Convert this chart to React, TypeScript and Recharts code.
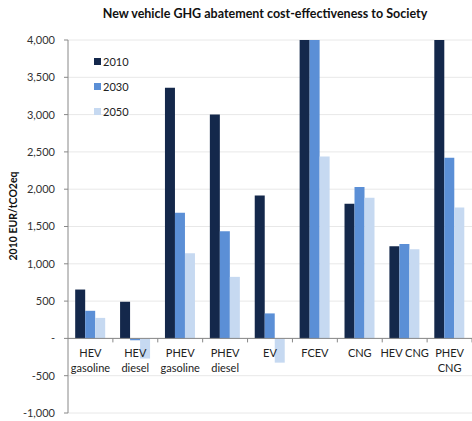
import React from 'react';
import { Bar, BarChart, CartesianGrid, ReferenceLine, XAxis, YAxis } from 'recharts';

const categories = [
  'HEV\ngasoline',
  'HEV\ndiesel',
  'PHEV\ngasoline',
  'PHEV\ndiesel',
  'EV',
  'FCEV',
  'CNG',
  'HEV CNG',
  'PHEV\nCNG',
];

// EUR per tCO2eq; FCEV and PHEV CNG 2010 run off the top of the scale
const y2010 = [655, 490, 3360, 3000, 1915, 4600, 1805, 1235, 4500];
const y2030 = [370, -25, 1685, 1435, 335, 4400, 2030, 1265, 2420];
const y2050 = [275, -270, 1140, 825, -325, 2440, 1885, 1195, 1755];

const yTicks = [-1000, -500, 0, 500, 1000, 1500, 2000, 2500, 3000, 3500, 4000];
const Y_MIN = -1000;
const Y_MAX = 4000;

const series = [
  { key: 'y2010', name: '2010', color: '#14284b' },
  { key: 'y2030', name: '2030', color: '#5b8fd6' },
  { key: 'y2050', name: '2050', color: '#c6d9f1' },
];

const data = categories.map((c, i) => ({
  name: c,
  y2010: y2010[i],
  y2030: y2030[i],
  y2050: y2050[i],
}));

const W = 472;
const H = 421;
const M_TOP = 40;
const X_AXIS_H = 8;
const Y_AXIS_W = 68;
const PLOT_BOTTOM = H - X_AXIS_H;
const PLOT_W = W - Y_AXIS_W;
const ZERO_Y = M_TOP + ((Y_MAX - 0) / (Y_MAX - Y_MIN)) * (PLOT_BOTTOM - M_TOP);
const BAND = PLOT_W / categories.length;

const FONT = 'Lato, "Open Sans", sans-serif';

const fmt = (v: number) => {
  if (v === 0) return '-';
  return v.toLocaleString('en-US');
};

// category labels sit under the zero line, with tick marks between categories
const CategoryTick = (props: any) => {
  const { x, payload } = props;
  const lines = String(payload.value).split('\n');
  return (
    <g>
      <line x1={x + BAND / 2} x2={x + BAND / 2} y1={ZERO_Y} y2={ZERO_Y + 4} stroke="#888" />
      {lines.map((l, i) => (
        <text
          key={i}
          x={x}
          y={ZERO_Y + 19 + i * 15}
          textAnchor="middle"
          fontSize={11}
          fontFamily={FONT}
          fill="#222"
        >
          {l}
        </text>
      ))}
    </g>
  );
};

const LegendBox = () => (
  <div
    style={{
      position: 'absolute',
      left: 94,
      top: 49,
      fontFamily: FONT,
      fontSize: 11,
      color: '#222',
      zIndex: 2,
    }}
  >
    {series.map((s) => (
      <div key={s.key} style={{ display: 'flex', alignItems: 'center', height: 25 }}>
        <span style={{ width: 7, height: 7, background: s.color, marginRight: 2 }} />
        <span>{s.name}</span>
      </div>
    ))}
  </div>
);

export default function App() {
  return (
    <div style={{ position: 'absolute', left: 0, top: 0, width: W, height: H, background: '#fff' }}>
      <div
        style={{
          position: 'absolute',
          left: 0,
          width: 530,
          top: 6,
          textAlign: 'center',
          fontFamily: FONT,
          fontWeight: 700,
          fontSize: 12.5,
          color: '#111',
        }}
      >
        New vehicle GHG abatement cost-effectiveness to Society
      </div>
      <svg style={{ position: 'absolute', left: 0, top: 0 }} width={30} height={H}>
        <text
          transform={`translate(17, 216) rotate(-90)`}
          textAnchor="middle"
          fontFamily={FONT}
          fontWeight={700}
          fontSize={10.5}
          fill="#111"
        >
          2010 EUR/tCO2eq
        </text>
      </svg>
      <BarChart
        width={W}
        height={H}
        data={data}
        margin={{ top: M_TOP, right: 0, bottom: 0, left: 0 }}
        barCategoryGap="16%"
        barGap={0}
        style={{ position: 'absolute', left: 0, top: 0 }}
      >
        <CartesianGrid vertical={false} stroke="#e8e8e8" />
        <XAxis
          dataKey="name"
          height={X_AXIS_H}
          axisLine={false}
          tickLine={false}
          interval={0}
          tick={<CategoryTick />}
        />
        <YAxis
          width={Y_AXIS_W}
          domain={[Y_MIN, Y_MAX]}
          ticks={yTicks}
          allowDataOverflow
          tickFormatter={fmt}
          axisLine={{ stroke: '#888' }}
          tickLine={{ stroke: '#888' }}
          tickSize={4}
          tickMargin={9}
          tick={{ fontSize: 11, fontFamily: FONT, fill: '#333' }}
        />
        <ReferenceLine y={0} stroke="#888" />
        {series.map((s) => (
          <Bar key={s.key} dataKey={s.key} name={s.name} fill={s.color} isAnimationActive={false} />
        ))}
      </BarChart>
      <LegendBox />
    </div>
  );
}
